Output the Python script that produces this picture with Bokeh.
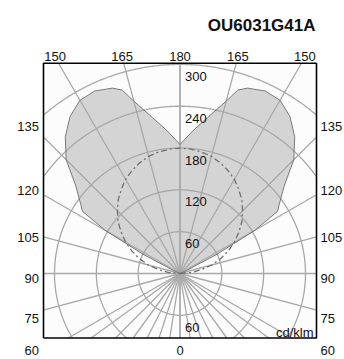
import numpy as np
from bokeh.plotting import figure
from bokeh.models import Range1d, Label
from bokeh.embed import file_html
from bokeh.resources import INLINE

# ---------------- data ----------------
title_text = "OU6031G41A"
unit_text = "cd/klm"

# C0-C180 plane (solid, filled): gamma angle (0 = down, 180 = up) -> cd/klm
gamma_c0 = [0, 15, 30, 45, 60, 75, 90, 100, 110, 115, 117.5, 120, 122.5, 125, 130,
            135, 140, 145, 150, 155, 160, 162.5, 165, 170, 175, 180]
i_c0 = [0, 0, 0, 0, 0, 0, 0, 0, 0, 10, 60, 124, 166, 174, 195,
        231, 256, 275, 287, 289, 283, 276, 256, 227, 205, 185]

# C90-C270 plane (dash-dot)
gamma_c90 = [90, 95, 100, 105, 110, 115, 120, 125, 130, 135, 140, 145, 150,
             155, 160, 165, 170, 175, 180]
i_c90 = [0, 16, 31, 47, 62, 76, 90, 103, 116, 127, 138, 147, 156,
         163, 169, 174, 177, 179, 180]

radial_ticks = [60, 120, 180, 240, 300]
spokes_upper = [90, 105, 120, 135, 150, 165, 180]
spokes_lower = [0, 9, 18, 27, 36, 45, 54, 60, 75]
top_labels = [150, 165, 180]
side_labels = [135, 120, 105, 90, 75]
bottom_labels = [60, 0]

# ---------------- geometry (pixels -> data) ----------------
s = 0.697              # px per cd/klm
W, H = 344, 359
cx, cy = 179.5, 273    # polar centre in canvas px (from top-left)
u = 1.0 / s            # data units per px

X0, X1 = -cx * u, (W - cx) * u
Y0, Y1 = -(H - cy) * u, cy * u
bl, br, bt, bb = -136.5 * u, 136.5 * u, 210.3 * u, -64.5 * u   # drawn box

p = figure(width=W, height=H, x_range=Range1d(X0, X1), y_range=Range1d(Y0, Y1),
           output_backend="svg", toolbar_location=None,
           x_axis_location=None, y_axis_location=None,
           min_border_left=0, min_border_right=0, min_border_top=0, min_border_bottom=0)
p.xgrid.visible = False
p.ygrid.visible = False
p.outline_line_color = None
p.background_fill_color = "white"
p.border_fill_color = "white"

def polar(g, r, side=1):
    g = np.radians(np.asarray(g, dtype=float))
    r = np.asarray(r, dtype=float)
    return side * r * np.sin(g), -r * np.cos(g)

def inside(x, y):
    return (x >= bl) & (x <= br) & (y >= bb) & (y <= bt)

# box background
p.quad(left=[bl], right=[br], top=[bt], bottom=[bb], fill_color="#fcfcfc", line_color=None)

# filled C0-C180 shape
xr, yr = polar(gamma_c0, i_c0, 1)
xl, yl = polar(gamma_c0[::-1], i_c0[::-1], -1)
px = np.concatenate([xr, xl])
py = np.concatenate([yr, yl])
p.patch(px, py, fill_color="#d4d4d4", line_color=None)

grid_col = "#a8a8a8"

# grid circles clipped to the box
cxs, cys = [], []
t = np.radians(np.arange(0, 360.01, 0.2))
for r in radial_ticks:
    x = r * np.sin(t)
    y = r * np.cos(t)
    ok = inside(x, y)
    run_x, run_y = [], []
    for xi, yi, oi in zip(x, y, ok):
        if oi:
            run_x.append(xi); run_y.append(yi)
        elif run_x:
            cxs.append(run_x); cys.append(run_y); run_x, run_y = [], []
    if run_x:
        cxs.append(run_x); cys.append(run_y)
p.multi_line(cxs, cys, line_color=grid_col, line_width=1.3)

# spokes clipped to the box
sx1, sy1 = [], []
for g in spokes_upper + spokes_lower:
    for side in (1, -1):
        dx, dy = polar(g, 1.0, side)
        dx, dy = float(dx), float(dy)
        cands = []
        if dx > 1e-9: cands.append(br / dx)
        if dx < -1e-9: cands.append(bl / dx)
        if dy > 1e-9: cands.append(bt / dy)
        if dy < -1e-9: cands.append(bb / dy)
        tt = min(cands)
        sx1.append(dx * tt); sy1.append(dy * tt)
p.segment([0] * len(sx1), [0] * len(sy1), sx1, sy1, line_color=grid_col, line_width=1.3)

# outline of C0-C180
p.line(np.append(px, px[0]), np.append(py, py[0]), line_color="#7a7a7a", line_width=1)

# C90-C270 dash-dot
cxr, cyr = polar(gamma_c90, i_c90, 1)
cxl, cyl = polar(gamma_c90[::-1], i_c90[::-1], -1)
p.line(np.concatenate([cxr, cxl]), np.concatenate([cyr, cyl]),
       line_color="#6e6e6e", line_width=1.3, line_dash="6 3 2 3")

# box border
p.line([bl, br, br, bl, bl], [bb, bb, bt, bt, bb], line_color="black", line_width=1.6)

font = "Liberation Sans"
fs = 13
half_digit = 0.358 * fs   # half of digit glyph height, px

def lab(x, y, t, align="left", size=fs, style="normal"):
    p.add_layout(Label(x=x, y=y, text=t, text_align=align, text_baseline="alphabetic",
                       text_font=font, text_font_size=f"{size}px", text_font_style=style,
                       text_color="#111111"))

# radial value labels (just under each circle top)
for r in radial_ticks:
    lab(5 * u, r - 12 * u, str(r))
lab(5 * u, -radial_ticks[0] - 12 * u, str(radial_ticks[0]))

# top angle labels
ytop = bt + 7 * u
for g in top_labels:
    xt = (bt + 6 * u) * np.tan(np.radians(180 - g))
    lab(-xt, ytop, str(g), align="center")
    if g != 180:
        lab(xt, ytop, str(g), align="center")

# side angle labels
xe = br + 15 * u
for g in side_labels:
    yc = -xe / np.tan(np.radians(g)) if g != 90 else 0.0
    yv = yc - half_digit * u
    lab(bl - 4.5 * u, yv, str(g), align="right")
    lab(br + 4 * u, yv, str(g), align="left")

# bottom labels
yb = -77 * u
lab(bl - 4.5 * u, yb, str(bottom_labels[0]), align="right")
lab(0, yb, str(bottom_labels[1]), align="center")
lab(br + 4 * u, yb, str(bottom_labels[0]), align="left")

# unit
lab(br - 3 * u, bb + 6 * u, unit_text, align="right")

# title
lab(br - 1 * u, 248 * u, title_text, align="right", size=17, style="bold")

open("out.html", "w").write(file_html(p, INLINE))
